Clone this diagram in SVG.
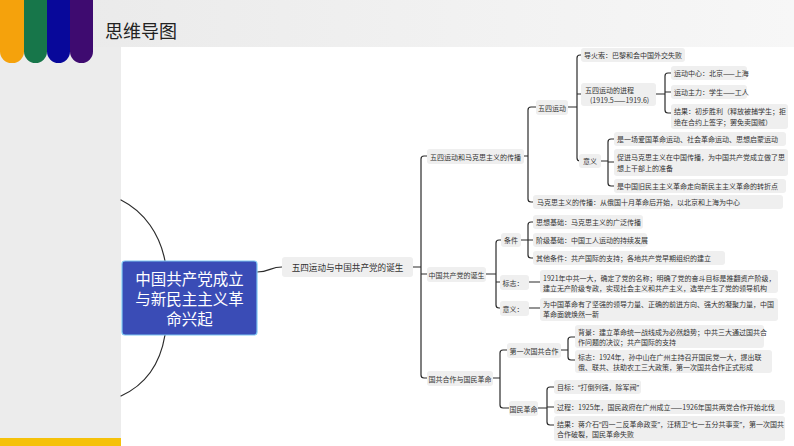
<svg xmlns="http://www.w3.org/2000/svg" width="794" height="446" viewBox="0 0 794 446">
<defs>
<linearGradient id="hdr" x1="0" y1="0" x2="1" y2="0">
<stop offset="0" stop-color="#e9e9e9"/>
<stop offset="1" stop-color="#f7f7f7"/>
</linearGradient>
<style>
.bx{fill:#efefef;}
.t{font-family:"Noto Sans CJK SC","Noto Sans",sans-serif;font-size:7px;fill:#333;dominant-baseline:central;}
.q{font-family:"Noto Sans","DejaVu Sans",sans-serif;}
.c{text-anchor:middle;}
.l1{font-size:8.6px;}
.ln{fill:none;stroke:#2b2b2b;stroke-width:1.2;stroke-linecap:round;stroke-linejoin:round;}
</style>
</defs>
<rect x="0" y="0" width="794" height="446" fill="#ececec"/>
<rect x="0" y="0" width="794" height="47" fill="url(#hdr)"/>
<rect x="121" y="47" width="673" height="399" fill="#ffffff"/>
<rect x="0" y="438" width="121" height="8" fill="#f5c10a"/>
<g id="bars">
<rect x="70" y="-12" width="23" height="75" rx="11.5" fill="#3e0b70"/>
<rect x="47" y="-12" width="23" height="75" rx="11.5" fill="#08089a"/>
<rect x="24" y="-12" width="23" height="75" rx="11.5" fill="#17764a"/>
<rect x="0" y="-12" width="24" height="75" rx="11.5" fill="#f5a20c"/>
</g>
<text x="105" y="30" font-family="'Noto Sans CJK SC','Noto Sans',sans-serif" font-size="18" fill="#222" dominant-baseline="central">思维导图</text>

<g id="connectors">
<path class="ln" d="M121,200 C145,212 160,235 165,261"/>
<path class="ln" d="M165,335 C160,365 145,385 121,396"/>
<path class="ln" d="M257,272 C270,272 270,267 282,267"/>
<path class="ln" d="M413,267 H421 M428,156 H424 Q421,156 421,159 V375 Q421,378 424,378 H428 M421,274 H428"/>
<path class="ln" d="M524,156 H528 M536,107 H531 Q528,107 528,110 V199 Q528,202 531,202 H533"/>
<path class="ln" d="M568,107 H577 M582,55 H580 Q577,55 577,58 V158 Q577,161 580,161 H580 M577,94 H582"/>
<path class="ln" d="M656,94 H665 M671,73 H668 Q665,73 665,76 V110 Q665,113 668,113 H671 M665,92 H671"/>
<path class="ln" d="M601,161 H608 M614,139 H611 Q608,139 608,142 V183 Q608,186 611,186 H614 M608,162 H614"/>
<path class="ln" d="M486,274 H496 M501,240 H499 Q496,240 496,243 V305 Q496,308 499,308 H500 M496,282 H500"/>
<path class="ln" d="M521,240 H528 M533,222 H531 Q528,222 528,225 V255 Q528,258 531,258 H533 M528,240 H533"/>
<path class="ln" d="M529,282 H540 M529,308 H540"/>
<path class="ln" d="M493,378 H500 M507,350 H503 Q500,350 500,353 V405 Q500,408 503,408 H509"/>
<path class="ln" d="M561,350 H568 M575,337 H571 Q568,337 568,340 V357 Q568,360 571,360 H575"/>
<path class="ln" d="M538,408 H547 M554,387 H550 Q547,387 547,390 V422 Q547,425 550,425 H554 M547,407 H554"/>
</g>

<g id="root">
<rect x="122" y="261" width="135" height="74" rx="3" fill="#3a4cb6" stroke="#7cc6f2" stroke-width="1.2"/>
<text x="189.5" y="278" font-family="'Noto Sans CJK SC','Noto Sans',sans-serif" font-size="15.5" fill="#ffffff" text-anchor="middle" dominant-baseline="central">中国共产党成立</text>
<text x="189.5" y="298" font-family="'Noto Sans CJK SC','Noto Sans',sans-serif" font-size="15.5" fill="#ffffff" text-anchor="middle" dominant-baseline="central">与新民主主义革</text>
<text x="189.5" y="318" font-family="'Noto Sans CJK SC','Noto Sans',sans-serif" font-size="15.5" fill="#ffffff" text-anchor="middle" dominant-baseline="central">命兴起</text>
</g>

<g id="n-a"><rect class="bx" x="282" y="257" width="131" height="20" rx="3"/><text class="t c l1" x="347.5" y="267">五四运动与中国共产党的诞生</text></g>

<g id="n-b1"><rect class="bx" x="427" y="149" width="97" height="15" rx="3"/><text class="t c" x="475.5" y="156.5">五四运动和马克思主义的传播</text></g>
<g id="n-c1"><rect class="bx" x="536" y="100" width="32" height="15" rx="3"/><text class="t c" x="552" y="107.5">五四运动</text></g>
<g id="n-d1"><rect class="bx" x="581" y="48" width="104" height="14" rx="3"/><text class="t" x="584" y="55">导火索：巴黎和会中国外交失败</text></g>
<g id="n-d2"><rect class="bx" x="581" y="83" width="75" height="23" rx="3"/><text class="t" x="585" y="89.5">五四运动的进程</text><text class="t" x="590" y="100">(1919.5——1919.6)</text></g>
<g id="n-e1"><rect class="bx" x="671" y="66" width="76" height="14" rx="3"/><text class="t" x="674" y="73">运动中心：北京——上海</text></g>
<g id="n-e2"><rect class="bx" x="671" y="85" width="76" height="14" rx="3"/><text class="t" x="674" y="92">运动主力：学生——工人</text></g>
<g id="n-e3"><rect class="bx" x="671" y="104" width="117" height="25" rx="3"/><text class="t" x="674" y="111">结果：初步胜利（释放被捕学生；拒</text><text class="t" x="674" y="122">绝在合约上签字；罢免卖国贼）</text></g>
<g id="n-d3"><rect class="bx" x="579" y="154" width="22" height="14" rx="3"/><text class="t c" x="590" y="161">意义</text></g>
<g id="n-f1"><rect class="bx" x="614" y="132" width="172" height="14" rx="3"/><text class="t" x="617" y="139">是一场爱国革命运动、社会革命运动、思想启蒙运动</text></g>
<g id="n-f2"><rect class="bx" x="614" y="149" width="174" height="27" rx="3"/><text class="t" x="617" y="157">促进马克思主义在中国传播，为中国共产党成立做了思</text><text class="t" x="617" y="168">想上干部上的准备</text></g>
<g id="n-f3"><rect class="bx" x="614" y="179" width="172" height="14" rx="3"/><text class="t" x="617" y="186">是中国旧民主主义革命走向新民主主义革命的转折点</text></g>
<g id="n-c2"><rect class="bx" x="533" y="195" width="250" height="14" rx="3"/><text class="t" x="537" y="202">马克思主义的传播：从俄国十月革命后开始，以北京和上海为中心</text></g>

<g id="n-b2"><rect class="bx" x="427" y="267" width="59" height="15" rx="3"/><text class="t c" x="456.5" y="274.5">中国共产党的诞生</text></g>
<g id="n-g1"><rect class="bx" x="501" y="233" width="20" height="14" rx="3"/><text class="t c" x="511" y="240">条件</text></g>
<g id="n-h1"><rect class="bx" x="533" y="215" width="110" height="14" rx="3"/><text class="t" x="536" y="222">思想基础：马克思主义的广泛传播</text></g>
<g id="n-h2"><rect class="bx" x="533" y="233" width="114" height="14" rx="3"/><text class="t" x="536" y="240">阶级基础：中国工人运动的持续发展</text></g>
<g id="n-h3"><rect class="bx" x="533" y="251" width="192" height="14" rx="3"/><text class="t" x="536" y="258">其他条件：共产国际的支持；各地共产党早期组织的建立</text></g>
<g id="n-g2"><rect class="bx" x="500" y="275" width="29" height="15" rx="3"/><text class="t c" x="513" y="282.5">标志：</text></g>
<g id="n-i1"><rect class="bx" x="540" y="270" width="238" height="23" rx="3"/><text class="t" x="543" y="277.5">1921年中共一大，确定了党的名称；明确了党的奋斗目标是推翻资产阶级，</text><text class="t" x="543" y="287.5">建立无产阶级专政，实现社会主义和共产主义，选举产生了党的领导机构</text></g>
<g id="n-g3"><rect class="bx" x="500" y="301" width="29" height="15" rx="3"/><text class="t c" x="513" y="308.5">意义：</text></g>
<g id="n-i2"><rect class="bx" x="540" y="298" width="238" height="23" rx="3"/><text class="t" x="543" y="304">为中国革命有了坚强的领导力量、正确的前进方向、强大的凝聚力量，中国</text><text class="t" x="543" y="314">革命面貌焕然一新</text></g>

<g id="n-b3"><rect class="bx" x="427" y="371" width="66" height="15" rx="3"/><text class="t c" x="460" y="378.5">国共合作与国民革命</text></g>
<g id="n-j1"><rect class="bx" x="507" y="343" width="54" height="15" rx="3"/><text class="t c" x="534" y="350.5">第一次国共合作</text></g>
<g id="n-k1"><rect class="bx" x="575" y="325" width="189" height="23" rx="3"/><text class="t" x="578" y="331.5">背景：建立革命统一战线成为必然趋势；中共三大通过国共合</text><text class="t" x="578" y="341.5">作问题的决议；共产国际的支持</text></g>
<g id="n-k2"><rect class="bx" x="575" y="350" width="197" height="23" rx="3"/><text class="t" x="578" y="357">标志：1924年，孙中山在广州主持召开国民党一大，提出联</text><text class="t" x="578" y="367">俄、联共、扶助农工三大政策，第一次国共合作正式形成</text></g>
<g id="n-j2"><rect class="bx" x="509" y="401" width="29" height="15" rx="3"/><text class="t c" x="523.5" y="408.5">国民革命</text></g>
<g id="n-l1"><rect class="bx" x="554" y="380" width="87" height="14" rx="3"/><text class="t" x="557" y="387">目标：<tspan class="q">“</tspan>打倒列强，除军阀<tspan class="q">”</tspan></text></g>
<g id="n-l2"><rect class="bx" x="554" y="400" width="231" height="14" rx="3"/><text class="t" x="557" y="407">过程：1925年，国民政府在广州成立——1926年国共两党合作开始北伐</text></g>
<g id="n-l3"><rect class="bx" x="554" y="416" width="231" height="25" rx="3"/><text class="t" x="557" y="424">结果：蒋介石<tspan class="q">“</tspan>四一二反革命政变<tspan class="q">”</tspan>，汪精卫<tspan class="q">“</tspan>七一五分共事变<tspan class="q">”</tspan>，第一次国共</text><text class="t" x="557" y="434">合作破裂，国民革命失败</text></g>
</svg>
